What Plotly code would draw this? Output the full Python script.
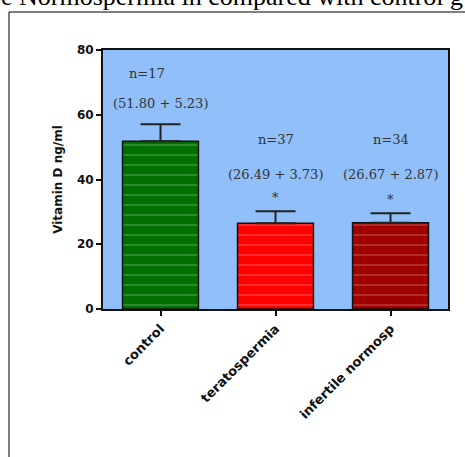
import plotly.graph_objects as go

# Vitamin D by group (mean + SEM)
groups = ["control", "teratospermia", "infertile normosp"]
means = [51.80, 26.49, 26.67]
sems = [5.23, 3.73, 2.87]
counts = ["n=17", "n=37", "n=34"]
bar_colors = ["#007000", "#ff0000", "#a00000"]
y_ticks = [0, 20, 40, 60, 80]

fig = go.Figure()
fig.add_trace(go.Bar(
    x=groups, y=means, width=0.66,
    marker=dict(color=bar_colors, line=dict(color="#111111", width=1.5),
                pattern=dict(shape="-", size=10, solidity=0.1,
                             fgcolor="#ffffff", fgopacity=0.35)),
    error_y=dict(type="data", symmetric=False, array=sems,
                 arrayminus=[0, 0, 0], color="#222222", thickness=2, width=20),
    showlegend=False,
))

label_font = dict(family="DejaVu Serif", size=13, color="#333333")
for i, g in enumerate(groups):
    top = means[i] + sems[i]
    if i == 0:
        n_y, txt_y = 72.8, 63.6
    else:
        n_y, txt_y = 52.5, 41.4
    fig.add_annotation(x=g, y=n_y, text=counts[i], showarrow=False,
                       font=label_font, xshift=-14 if i == 0 else 0)
    fig.add_annotation(x=g, y=txt_y, text=f"({means[i]:.2f} + {sems[i]:.2f})",
                       showarrow=False, font=label_font)
    if i > 0:
        fig.add_annotation(x=g, y=top + 4.2, text="*", showarrow=False,
                           font=label_font)

# caption line above the chart
fig.add_annotation(xref="paper", yref="paper", x=-0.302, y=1.142,
                   xanchor="left", yanchor="bottom",
                   text="e Normospermia in compared with control g",
                   showarrow=False,
                   font=dict(family="Liberation Serif", size=26, color="#000000"))

# frame around the figure panel
fig.add_shape(type="line", xref="paper", yref="paper",
              x0=-0.2725, x1=1.2, y0=1.1467, y1=1.1467,
              line=dict(color="#000000", width=1))
fig.add_shape(type="line", xref="paper", yref="paper",
              x0=-0.2725, x1=-0.2725, y0=1.1467, y1=-0.6,
              line=dict(color="#000000", width=1))

fig.update_layout(
    width=465, height=457,
    margin=dict(l=103, r=17, t=50, b=148),
    paper_bgcolor="#ffffff", plot_bgcolor="#90bff9",
    bargap=0.34,
)
fig.update_xaxes(
    showline=True, linecolor="#111111", linewidth=2, mirror=True,
    ticks="outside", ticklen=5, tickwidth=2, tickcolor="#111111",
    tickangle=-45,
    tickfont=dict(family="DejaVu Sans", size=13, color="#111111", weight="bold"),
)
fig.update_yaxes(
    range=[0, 80], tickvals=y_ticks, showgrid=False, zeroline=False,
    showline=True, linecolor="#111111", linewidth=2, mirror=True,
    ticks="outside", ticklen=5, tickwidth=2, tickcolor="#111111",
    tickfont=dict(family="DejaVu Sans", size=12, color="#111111", weight="bold"),
    title=dict(text="Vitamin D ng/ml", standoff=12,
               font=dict(family="DejaVu Sans", size=12, color="#111111", weight="bold")),
)

fig.write_html("out.html")
